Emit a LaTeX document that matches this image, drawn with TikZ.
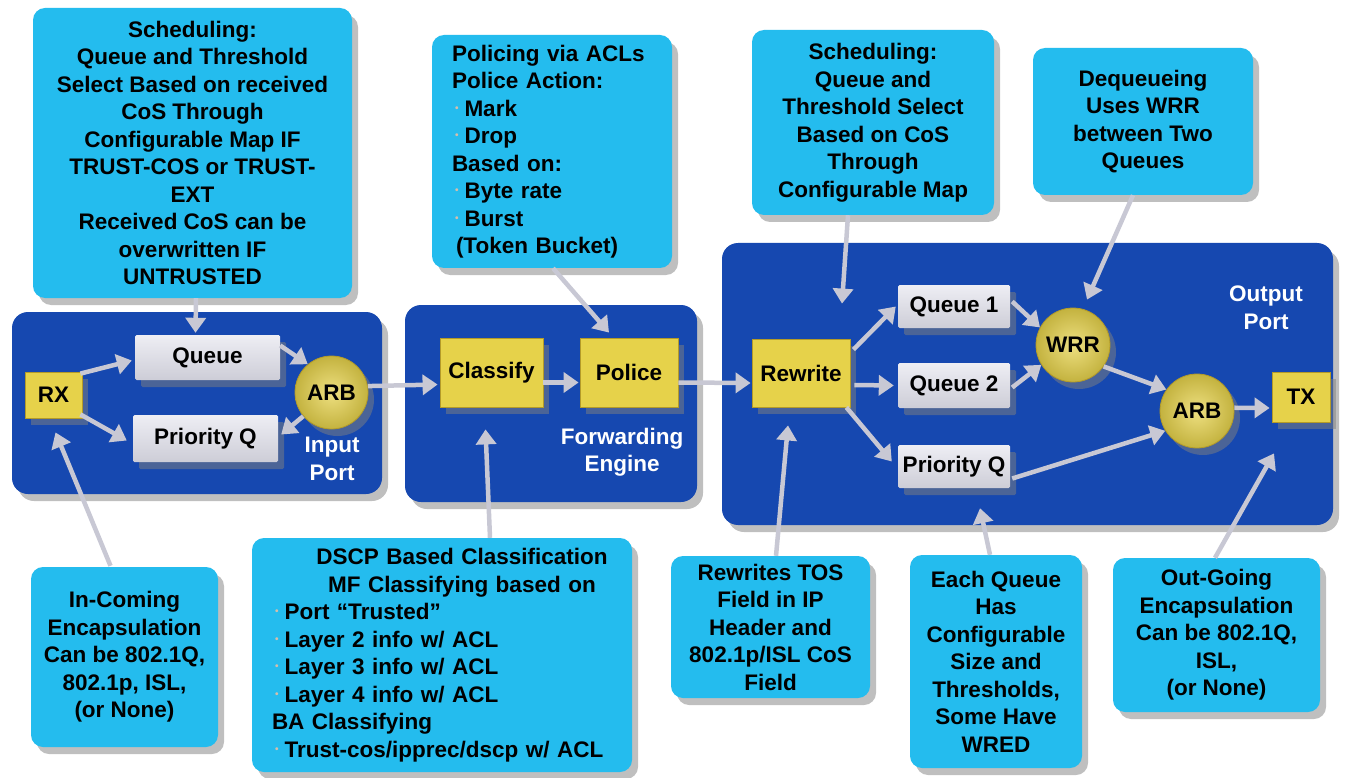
\documentclass[tikz,border=0pt]{standalone}
\usepackage{fontspec}
\setmainfont{Liberation Sans}
\usetikzlibrary{arrows.meta,shadows,calc}
\definecolor{panelc}{RGB}{22,72,176}
\definecolor{callc}{RGB}{36,188,238}
\definecolor{yelc}{RGB}{230,210,74}
\definecolor{yeld}{RGB}{180,155,40}
\definecolor{arrc}{RGB}{200,200,212}
\definecolor{bulc}{RGB}{215,190,170}
\definecolor{grayt}{RGB}{238,238,244}
\definecolor{grayb}{RGB}{205,205,215}
\newcommand\cbul{\hspace*{3pt}\raisebox{5pt}{\color{bulc}\fontsize{10}{10}\selectfont\textbullet}\hspace{6pt}}
\begin{document}
\begin{tikzpicture}[x=1pt,y=-1pt,
  txt/.style={font=\bfseries\fontsize{22.5}{27.5}\selectfont},
  shad/.style={drop shadow={shadow xshift=6pt,shadow yshift=-7pt,opacity=0.5}},
  callout/.style={txt,shad,fill=callc,rounded corners=12pt,align=center,inner sep=0pt},
  panel/.style={shad,fill=panelc,rounded corners=16pt,inner sep=0pt},
  graybox/.style={txt,shad,top color=grayt,bottom color=grayb,inner sep=0pt,rounded corners=1.5pt},
  yelbox/.style={txt,shad,fill=yelc,draw=yeld,line width=0.8pt,inner sep=0pt},
  yelball/.style={txt,shad,circle,inner color=yelc!70!white,outer color=yelc!85!black,draw=yeld,line width=0.8pt,inner sep=0pt,minimum size=73pt},
  paneltext/.style={txt,text=white,align=center},
  flow/.style={draw=arrc,line width=4.5pt,-{Triangle[length=15pt,width=20pt]}}
]
\useasboundingbox (0,0) rectangle (1347,778);
\fill[white] (0,0) rectangle (1347,778);

% panels
\node[panel,minimum width=370pt,minimum height=182pt] (inport) at (197,403) {};
\node[panel,minimum width=292pt,minimum height=197pt] (fwd) at (551,403.5) {};
\node[panel,minimum width=611pt,minimum height=282pt] (outp) at (1027.5,384) {};

% input port
\node[yelbox,minimum width=57pt,minimum height=46pt] (rx) at (53.5,395) {RX};
\node[graybox,minimum width=145pt,minimum height=45pt] (queue) at (207.5,357.5) {Queue};
\node[graybox,minimum width=145pt,minimum height=47pt] (prio1) at (205.5,438.5) {Priority Q};
\node[yelball] (arb1) at (331.5,392.5) {ARB};
\node[paneltext] (inlbl) at (332,459) {Input\\Port};

% forwarding engine
\node[yelbox,minimum width=103pt,minimum height=69pt] (classify) at (491.5,372.5) {Classify};
\node[yelbox,minimum width=98pt,minimum height=69pt] (police) at (629,372.5) {Police};
\node[paneltext] (fwdlbl) at (622,452) {Forwarding\\Engine};

% output port
\node[yelbox,minimum width=98pt,minimum height=68pt] (rewrite) at (801,373) {Rewrite};
\node[graybox,minimum width=112pt,minimum height=43pt] (q1) at (954,306.5) {Queue 1};
\node[graybox,minimum width=112pt,minimum height=45pt] (q2) at (954,385.5) {Queue 2};
\node[graybox,minimum width=112pt,minimum height=43pt] (pq2) at (954,466.5) {Priority Q};
\node[yelball,minimum size=74pt] (wrr) at (1073,345) {WRR};
\node[yelball,minimum size=74pt] (arb2) at (1197,411) {ARB};
\node[yelbox,minimum width=58pt,minimum height=50pt] (tx) at (1301,397) {TX};
\node[paneltext] (outlbl) at (1266,308) {Output\\Port};

% callouts
\node[callout,minimum width=319pt,minimum height=290pt] (sched1) at (192.5,153)
 {Scheduling:\\Queue and Threshold\\Select Based on received\\CoS Through\\Configurable Map IF\\TRUST-COS or TRUST-\\EXT\\Received CoS can be\\overwritten IF\\UNTRUSTED};
\node[callout,align=left,text width=200pt,inner xsep=20pt,minimum height=233pt] (polc) at (552,151.5)
 {Policing via ACLs\\Police Action:\\\cbul Mark\\\cbul Drop\\Based on:\\\cbul Byte rate\\\cbul Burst\\\hspace*{4pt}(Token Bucket)};
\node[callout,minimum width=242pt,minimum height=185pt] (sched2) at (873,122.5)
 {Scheduling:\\Queue and\\Threshold Select\\Based on CoS\\Through\\Configurable Map};
\node[callout,minimum width=220pt,minimum height=147pt] (deq) at (1143,121.5)
 {Dequeueing\\Uses WRR\\between Two\\Queues};
\node[callout,minimum width=187pt,minimum height=180pt] (incoming) at (124.5,657)
 {In-Coming\\Encapsulation\\Can be 802.1Q,\\802.1p, ISL,\\(or None)};
\node[callout,align=left,text width=340pt,inner xsep=20pt,minimum height=234pt] (dscp) at (442,655)
 {\makebox[340pt][c]{\hspace*{40pt}DSCP Based Classification}\\
  \makebox[340pt][c]{\hspace*{40pt}MF Classifying based on}\\
  \cbul Port “Trusted”\\\cbul Layer 2 info w/ ACL\\\cbul Layer 3 info w/ ACL\\\cbul Layer 4 info w/ ACL\\
  BA Classifying\\\cbul Trust-cos/ipprec/dscp w/ ACL};
\node[callout,minimum width=199pt,minimum height=142pt] (rewc) at (770.5,627)
 {Rewrites TOS\\Field in IP\\Header and\\802.1p/ISL CoS\\Field};
\node[callout,minimum width=172pt,minimum height=213pt] (eachq) at (996,661.5)
 {Each Queue\\Has\\Configurable\\Size and\\Thresholds,\\Some Have\\WRED};
\node[callout,minimum width=207pt,minimum height=154pt] (outg) at (1216.5,635)
 {Out-Going\\Encapsulation\\Can be 802.1Q,\\ISL,\\(or None)};

% connectors
\draw[flow] ($(sched1.south)+(3.5,0)$) -- ($(queue.north)+(-12,-2)$);
\draw[flow] ($(rx.north east)+(-2,2)$) -- ($(queue.west)+(-3,3)$);
\draw[flow] ($(rx.south east)+(-2,-4)$) -- ($(prio1.west)+(-6,2)$);
\draw[flow] ($(queue.east)+(0,-12)$) -- (arb1.130);
\draw[flow] (arb1.220) -- ($(prio1.east)+(3,-4)$);
\draw[flow] (arb1.10) -- ($(classify.west)+(-2,12)$);
\draw[flow] ($(incoming.north)+(-14,-1)$) -- ($(rx.south)+(2,14)$);
\draw[flow] ($(classify.east)+(0,10)$) -- ($(police.west)+(-1,10)$);
\draw[flow] ($(polc.south)+(1,0)$) -- ($(police.north)+(-20,-5)$);
\draw[flow] ($(dscp.north)+(48,0)$) -- ($(classify.south)+(-6,22)$);
\draw[flow] ($(police.east)+(0,10)$) -- ($(rewrite.west)+(-1,10)$);
\draw[flow] ($(sched2.south)+(-25,0)$) -- ($(rewrite.north)+(41,-35)$);
\draw[flow] ($(rewrite.north east)+(3,11)$) -- ($(q1.west)+(-2,0)$);
\draw[flow] ($(rewrite.east)+(4,12)$) -- ($(q2.west)+(-4,0)$);
\draw[flow] ($(rewrite.south east)+(-4,0)$) -- ($(pq2.west)+(-6,-5)$);
\draw[flow] ($(q1.east)+(2,-5)$) -- (wrr.152);
\draw[flow] ($(q2.east)+(2,2)$) -- (wrr.212);
\draw[flow] ($(deq.south)+(-10,0)$) -- ($(wrr.north)+(14,-8)$);
\draw[flow] (wrr.-35) -- (arb2.145);
\draw[flow] ($(pq2.east)+(2,12)$) -- (arb2.212);
\draw[flow] (arb2.5) -- ($(tx.west)+(-2,11)$);
\draw[flow] ($(rewc.north)+(5.5,0)$) -- ($(rewrite.south)+(-13,18)$);
\draw[flow] ($(eachq.north)+(-6,0)$) -- ($(pq2.south)+(26,20)$);
\draw[flow] ($(outg.north)+(-1.5,0)$) -- ($(tx.south)+(-27,31)$);
\end{tikzpicture}
\end{document}
